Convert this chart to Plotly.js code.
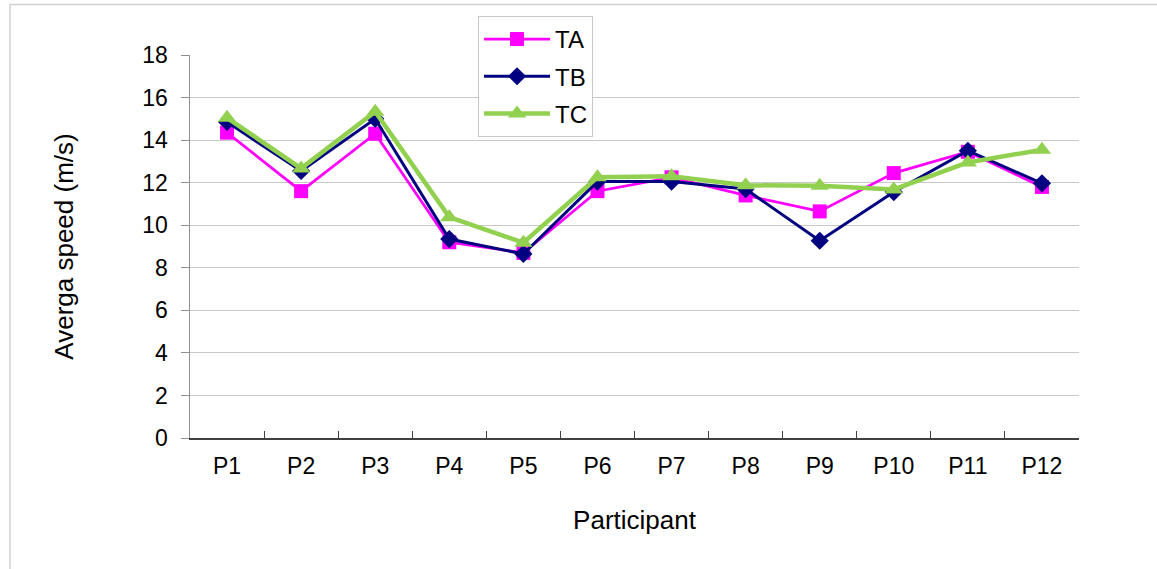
<!DOCTYPE html>
<html>
<head>
<meta charset="utf-8">
<script src="https://cdn.plot.ly/plotly-3.0.1.min.js"></script>
<style>
html,body{margin:0;padding:0;background:#fff;}
#chart{width:1157px;height:569px;}
</style>
</head>
<body>
<div id="chart"></div>
<script>
var participants = ["P1","P2","P3","P4","P5","P6","P7","P8","P9","P10","P11","P12"];
var seriesTA = [14.35, 11.6, 14.3, 9.2, 8.7, 11.6, 12.25, 11.4, 10.65, 12.45, 13.45, 11.8];
var seriesTB = [14.85, 12.55, 15.0, 9.35, 8.65, 12.05, 12.05, 11.7, 9.27, 11.56, 13.5, 11.97];
var seriesTC = [15.05, 12.67, 15.33, 10.38, 9.18, 12.25, 12.3, 11.88, 11.85, 11.68, 12.95, 13.55];
var seriesNames = ["TA","TB","TC"];

var font = "Liberation Sans, Arial, sans-serif";

var traces = [
  {x: participants, y: seriesTA, name: seriesNames[0], type: "scatter", mode: "lines+markers",
   legendgroup: "a",
   line: {color: "#FF00FF", width: 2.7}, marker: {symbol: "square", size: 14, color: "#FF00FF"}},
  {x: participants, y: seriesTB, name: seriesNames[1], type: "scatter", mode: "lines+markers",
   legendgroup: "b",
   line: {color: "#000080", width: 3}, marker: {symbol: "diamond", size: 14, color: "#000080"}},
  {x: participants, y: seriesTC, name: seriesNames[2], type: "scatter", mode: "lines+markers",
   legendgroup: "c",
   line: {color: "#92D050", width: 4.5}, marker: {symbol: "triangle-up", size: 16, color: "#92D050"}}
];

var layout = {
  width: 1157, height: 569,
  paper_bgcolor: "#ffffff", plot_bgcolor: "#ffffff",
  margin: {l: 190, r: 78, t: 55, b: 131, pad: 0},
  font: {family: font, color: "#000000", size: 22},
  showlegend: true,
  legend: {
    x: 0.324, y: 1.102, xanchor: "left", yanchor: "top",
    bgcolor: "#ffffff", bordercolor: "#c8c8c8", borderwidth: 1,
    font: {family: font, size: 24, color: "#000"},
    tracegroupgap: 3, itemwidth: 66
  },
  xaxis: {
    type: "category",
    range: [-0.5, 11.5],
    showgrid: false,
    showline: true, linecolor: "#404040", linewidth: 1.5,
    ticks: "inside", ticklen: 7, tickcolor: "#404040", tickwidth: 1,
    tickson: "boundaries",
    tickfont: {family: font, size: 23, color: "#000"},
    ticklabelstandoff: 7,
    title: {text: "Participant", font: {family: font, size: 26, color: "#000"}, standoff: 32},
    zeroline: false, fixedrange: true
  },
  yaxis: {
    range: [0, 18],
    dtick: 2, tick0: 0,
    showgrid: true, gridcolor: "#c8c8c8", gridwidth: 1,
    showline: true, linecolor: "#909090", linewidth: 1.5,
    ticks: "outside", ticklen: 8, tickcolor: "#909090", tickwidth: 1,
    tickfont: {family: font, size: 23, color: "#000"},
    ticklabelstandoff: 8,
    title: {text: "Averga speed (m/s)", font: {family: font, size: 26, color: "#000"}, standoff: 61},
    zeroline: false, fixedrange: true
  },
  shapes: [
    {type: "line", xref: "paper", yref: "paper", x0: -0.2025, x1: 1.2, y0: 1.132, y1: 1.132,
     line: {color: "#d0d0d0", width: 1.5}},
    {type: "line", xref: "paper", yref: "paper", x0: -0.2025, x1: -0.2025, y0: -0.5, y1: 1.132,
     line: {color: "#d0d0d0", width: 1.5}}
  ]
};

Plotly.newPlot("chart", traces, layout, {displayModeBar: false, staticPlot: true});
</script>
</body>
</html>
